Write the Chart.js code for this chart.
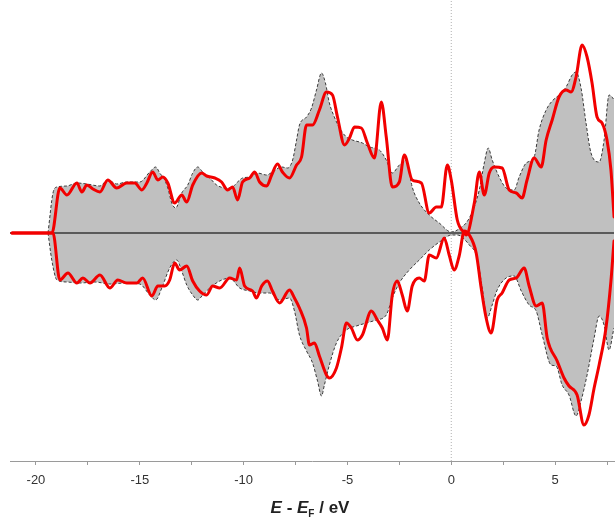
<!DOCTYPE html>
<html>
<head>
<meta charset="utf-8">
<script src="https://cdn.jsdelivr.net/npm/chart.js@4/dist/chart.umd.min.js"></script>
<style>
  html, body { margin: 0; padding: 0; background: #fff; }
  #wrap { position: relative; width: 615px; height: 529px; overflow: hidden; }
  #title { position: absolute; left: 0; width: 620px; top: 498px; text-align: center;
           font-family: "Liberation Sans", Arial, sans-serif; font-weight: bold; font-size: 17px; color: #222; }
  #title sub { font-size: 10px; vertical-align: -4px; }
</style>
</head>
<body>
<div id="wrap">
  <canvas id="c" width="615" height="529"></canvas>
  <div id="title"><i>E</i> - <i>E</i><sub>F</sub> / eV</div>
</div>
<script>
// Energies (eV, relative to E_F) and DOS values (arb. units)
const grayUpE = [-19.42,-19.18,-18.99,-18.51,-18.03,-17.55,-16.92,-16.54,-16.11,-15.63,-15.24,-15.00,-14.52,-14.23,-14.04,-13.80,-13.65,-13.46,-13.27,-12.98,-12.69,-12.45,-12.21,-11.97,-11.63,-11.30,-10.82,-10.53,-10.29,-10.05,-9.71,-9.33,-8.89,-8.61,-8.17,-7.88,-7.64,-7.45,-7.31,-6.97,-6.73,-6.49,-6.25,-6.06,-5.87,-5.63,-5.38,-5.05,-4.76,-4.28,-3.94,-3.46,-3.13,-2.84,-2.50,-2.16,-1.88,-1.54,-1.06,-0.58,0.00,0.29,0.87,1.35,1.59,1.78,1.97,2.31,2.64,3.03,3.27,3.61,3.99,4.23,4.57,4.86,5.19,5.53,5.82,6.01,6.25,6.49,6.73,7.12,7.36,7.60,7.84,8.0];
const grayUpV = [0,4.0,4.6,4.7,5.0,4.9,4.7,5.3,4.9,5.1,5.1,5.1,6.1,6.6,6.0,5.3,4.5,3.0,2.5,4.0,4.8,6.0,6.6,6.1,5.5,4.8,4.5,4.6,5.1,5.5,5.6,6.0,5.8,6.1,6.6,6.5,7.3,9.3,10.8,11.6,12.5,14.3,16.0,15.0,13.0,11.6,10.5,9.6,9.3,9.0,8.6,8.3,7.3,6.0,6.8,7.3,4.6,3.0,1.8,1.0,0.1,0.3,1.5,4.3,7.0,8.5,7.3,5.6,4.5,4.3,5.6,7.0,7.6,10.3,12.3,13.2,13.8,14.6,15.8,16.1,14.5,11.0,8.0,7.1,9.3,13.8,13.3,12.5];

const grayDnE = [-19.42,-19.23,-18.99,-18.51,-17.89,-17.16,-16.44,-15.72,-15.00,-14.52,-14.23,-13.94,-13.56,-13.22,-12.98,-12.74,-12.45,-12.21,-11.97,-11.63,-11.15,-10.67,-10.19,-9.71,-9.23,-8.75,-8.27,-7.79,-7.55,-7.31,-6.97,-6.68,-6.44,-6.25,-6.11,-5.87,-5.53,-5.05,-4.57,-4.09,-3.61,-3.13,-2.84,-2.50,-2.02,-1.54,-1.06,-0.43,0.00,0.29,0.87,1.25,1.49,1.73,1.97,2.21,2.64,3.03,3.37,3.75,4.09,4.38,4.81,5.05,5.34,5.67,6.01,6.25,6.54,6.88,7.12,7.36,7.60,7.84,8.0];
const grayDnV = [0,-2.8,-4.7,-4.9,-5.0,-4.9,-5.1,-5.0,-5.1,-6.2,-6.7,-5.5,-3.5,-2.7,-3.8,-5.2,-6.2,-6.7,-6.2,-5.5,-4.8,-4.5,-5.5,-5.8,-6.0,-6.0,-6.7,-6.5,-7.8,-10.2,-11.8,-13.0,-14.8,-16.3,-15.2,-13.2,-11.0,-9.7,-9.3,-9.0,-8.7,-8.2,-6.5,-5.0,-3.7,-2.7,-1.7,-0.7,-0.2,-0.2,-1.2,-2.5,-5.5,-8.5,-7.2,-5.7,-4.5,-4.3,-5.8,-7.2,-7.8,-10.2,-13.2,-13.3,-15.2,-16.2,-18.3,-16.8,-14.2,-10.5,-8.3,-9.2,-11.7,-9.5,-8.8];

const redUpE = [-21.15,-19.23,-18.85,-18.51,-18.03,-17.79,-17.55,-17.26,-16.92,-16.54,-16.11,-15.63,-15.24,-14.90,-14.66,-14.38,-14.13,-13.89,-13.65,-13.32,-12.98,-12.74,-12.45,-12.02,-11.78,-11.39,-11.06,-10.77,-10.53,-10.29,-10.05,-9.71,-9.47,-9.23,-8.89,-8.65,-8.37,-8.13,-7.79,-7.45,-7.21,-6.97,-6.68,-6.35,-6.01,-5.72,-5.48,-5.14,-4.90,-4.66,-4.33,-4.04,-3.70,-3.37,-3.13,-2.84,-2.50,-2.26,-1.88,-1.44,-1.06,-0.72,-0.48,-0.19,0.00,0.29,0.63,0.72,1.11,1.35,1.59,1.83,2.07,2.45,2.79,3.13,3.41,3.65,3.99,4.33,4.57,4.86,5.19,5.53,5.77,6.01,6.30,6.54,6.78,7.02,7.26,7.50,7.69,7.84,7.93];
const redUpV = [0,0,4.5,3.8,5.0,4.1,4.8,4.4,4.1,5.3,4.5,5.0,5.0,4.3,5.0,6.1,5.3,5.6,5.0,3.0,3.8,3.1,4.8,6.0,5.7,5.5,5.1,4.3,4.6,3.3,5.1,5.5,6.1,5.1,4.7,5.8,6.9,6.1,5.5,6.8,7.6,10.8,10.8,12.3,14.1,13.8,11.6,8.8,9.5,10.6,10.5,9.0,7.5,13.1,9.6,4.6,5.1,7.8,5.3,5.0,2.0,2.6,2.6,6.8,5.3,1.3,0.0,-0.2,3.0,6.1,3.8,6.0,6.6,6.5,4.3,4.0,3.5,5.3,7.5,6.6,9.3,11.3,13.6,14.3,14.1,15.6,18.8,17.6,15.0,11.6,11.0,9.3,6.3,1.6,-1.0];

const redDnE = [-21.15,-19.18,-18.85,-18.46,-18.03,-17.74,-17.40,-16.92,-16.44,-16.06,-15.63,-15.14,-14.86,-14.42,-14.13,-13.80,-13.56,-13.32,-13.08,-12.74,-12.45,-12.12,-11.78,-11.49,-11.15,-10.67,-10.34,-10.19,-9.95,-9.57,-9.38,-9.13,-8.85,-8.61,-8.27,-7.79,-7.55,-7.31,-6.97,-6.83,-6.59,-6.35,-6.01,-5.87,-5.53,-5.29,-5.05,-4.81,-4.52,-4.28,-3.85,-3.56,-3.32,-3.08,-2.84,-2.60,-2.36,-2.12,-1.88,-1.54,-1.30,-1.06,-0.72,-0.34,-0.10,0.14,0.38,0.63,0.87,1.20,1.44,1.68,1.92,2.21,2.45,2.79,3.13,3.51,3.75,4.09,4.38,4.62,5.10,5.43,5.67,6.06,6.39,6.63,6.88,7.12,7.45,7.69,7.84,7.93];
const redDnV = [0,0,-4.7,-4.0,-5.0,-4.5,-5.0,-4.2,-5.5,-4.7,-5.0,-5.0,-4.5,-6.3,-5.3,-5.3,-4.7,-3.0,-3.7,-3.3,-4.8,-5.8,-6.2,-5.3,-5.5,-4.5,-4.7,-3.5,-5.3,-5.8,-6.5,-5.3,-4.8,-5.8,-7.0,-5.7,-6.5,-7.5,-9.5,-11.2,-11.0,-12.3,-14.2,-14.5,-13.5,-11.5,-9.0,-9.5,-10.7,-10.2,-7.8,-8.7,-9.5,-10.7,-6.2,-4.8,-6.2,-7.8,-5.3,-4.5,-4.8,-2.2,-2.5,-0.5,-2.2,-3.7,-2.3,0.2,-0.2,-2.0,-5.5,-8.5,-10.0,-6.7,-6.0,-4.7,-4.5,-3.5,-5.3,-7.3,-7.0,-10.5,-12.8,-14.5,-15.3,-16.2,-19.2,-18.2,-15.5,-13.2,-9.5,-4.8,-0.8,1.0];

const xTickLabels = [-20, -15, -10, -5, 0, 5];
const xRange = [-21.25, 7.84];
const yRange = [-22.8, 23.3];

const zip = (xs, ys) => xs.map((x, i) => ({ x: x, y: ys[i] }));

const grayStyle = {
  borderColor: '#3a3a3a', borderWidth: 1, borderDash: [3, 2],
  backgroundColor: '#c0c0c0', fill: 'origin', pointRadius: 0,
  cubicInterpolationMode: 'monotone', order: 10
};
const redStyle = {
  borderColor: '#f20000', borderWidth: 3, fill: false, pointRadius: 0,
  cubicInterpolationMode: 'monotone',
  borderJoinStyle: 'round', borderCapStyle: 'round', order: 1
};

new Chart(document.getElementById('c'), {
  type: 'line',
  data: {
    datasets: [
      Object.assign({ label: 'total up', data: zip(grayUpE, grayUpV) }, grayStyle),
      Object.assign({ label: 'total down', data: zip(grayDnE, grayDnV) }, grayStyle),
      { label: 'zero', data: [{ x: xRange[0], y: 0 }, { x: xRange[1], y: 0 }],
        borderColor: '#5a5a5a', borderWidth: 2, pointRadius: 0, fill: false, order: 5 },
      { label: 'EF', data: [{ x: 0, y: yRange[0] }, { x: 0, y: yRange[1] }],
        borderColor: '#b0b0b0', borderWidth: 1, borderDash: [1, 2], pointRadius: 0, fill: false, order: 6 },
      Object.assign({ label: 'up', data: zip(redUpE, redUpV) }, redStyle),
      Object.assign({ label: 'down', data: zip(redDnE, redDnV) }, redStyle)
    ]
  },
  options: {
    responsive: false,
    animation: false,
    layout: { padding: { left: 10, right: 0, top: 0, bottom: 0 } },
    plugins: { legend: { display: false }, tooltip: { enabled: false } },
    scales: {
      x: {
        type: 'linear', min: xRange[0], max: xRange[1],
        afterFit: (s) => { s.height = 68; },
        grid: { drawOnChartArea: false, drawTicks: true, tickLength: 4, color: '#9a9a9a' },
        border: { display: true, color: '#9a9a9a', width: 1 },
        ticks: {
          stepSize: 2.5, includeBounds: false, autoSkip: false, maxRotation: 0, padding: 8,
          color: '#333', font: { family: '"Liberation Sans", Arial, sans-serif', size: 13 },
          callback: (v) => xTickLabels.includes(v) ? String(v) : ''
        }
      },
      y: { display: false, min: yRange[0], max: yRange[1] }
    }
  }
});
</script>
</body>
</html>
